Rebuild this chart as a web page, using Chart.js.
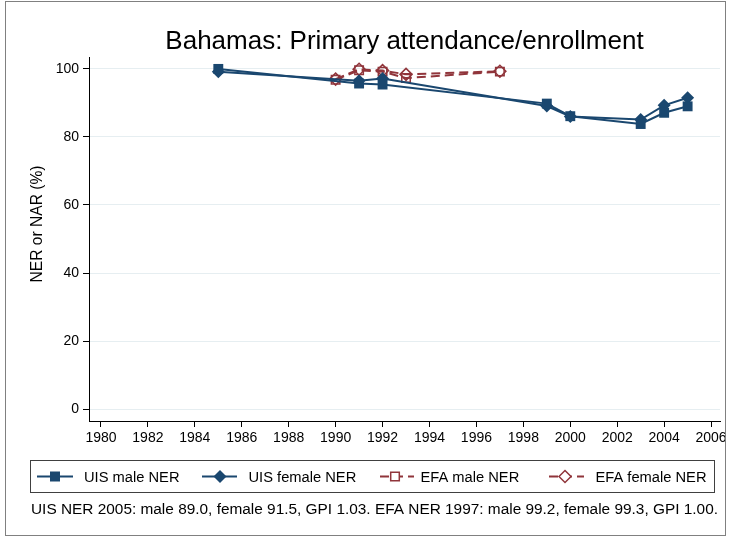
<!DOCTYPE html>
<html>
<head>
<meta charset="utf-8">
<script src="https://cdn.jsdelivr.net/npm/chart.js@4.4.1/dist/chart.umd.min.js"></script>
<style>
    html, body { margin: 0; padding: 0; background: #fff; }
</style>
</head>
<body>
<canvas id="myChart" width="731" height="538"></canvas>
<script>
// data
const uisYears = [1985, 1991, 1992, 1999, 2000, 2003, 2004, 2005];
const uisMale = [100.0, 95.7, 95.4, 89.8, 86.1, 83.8, 87.1, 89.0];
const uisFemale = [99.2, 96.5, 97.2, 89.1, 86.0, 85.1, 89.3, 91.5];
const efaYears = [1990, 1991, 1992, 1993, 1997];
const efaMale = [96.8, 99.6, 99.2, 97.3, 99.2];
const efaFemale = [97.0, 99.9, 99.5, 98.4, 99.3];

const xTicks = [1980, 1982, 1984, 1986, 1988, 1990, 1992, 1994, 1996, 1998, 2000, 2002, 2004, 2006];
const yTicks = [0, 20, 40, 60, 80, 100];

const titleText = 'Bahamas: Primary attendance/enrollment';
const yTitleText = 'NER or NAR (%)';
const legendLabels = ['UIS male NER', 'UIS female NER', 'EFA male NER', 'EFA female NER'];
const noteText = 'UIS NER 2005: male 89.0, female 91.5, GPI 1.03. EFA NER 1997: male 99.2, female 99.3, GPI 1.00.';

const navy = '#1a476f';
const maroon = '#90353b';
const FONT = '"Liberation Sans", Arial, Helvetica, sans-serif';
const efaDash = [9, 5];

function toPoints(xs, ys) {
    return xs.map((x, i) => ({ x: x, y: ys[i] }));
}

function drawMarker(ctx, style, x, y, color, filled) {
    ctx.beginPath();
    if (style === 'square') {
        const h = filled ? 5 : 4.3;
        ctx.rect(x - h, y - h, 2 * h, 2 * h);
    } else {
        const r = filled ? 6.5 : 6;
        ctx.moveTo(x, y - r);
        ctx.lineTo(x + r, y);
        ctx.lineTo(x, y + r);
        ctx.lineTo(x - r, y);
        ctx.closePath();
    }
    if (filled) {
        ctx.fillStyle = color;
        ctx.fill();
    } else {
        ctx.fillStyle = '#fff';
        ctx.fill();
        ctx.setLineDash([]);
        ctx.lineWidth = 1.5;
        ctx.strokeStyle = color;
        ctx.stroke();
    }
}

// title, y title, legend box and note
const decorPlugin = {
    id: 'decor',
    afterDraw(chart) {
        const ctx = chart.ctx;
        const area = chart.chartArea;
        ctx.save();

        // outer frame
        ctx.strokeStyle = '#808080';
        ctx.lineWidth = 1;
        ctx.strokeRect(5.5, 1.5, 720, 534);

        // title
        ctx.fillStyle = '#000';
        ctx.font = '26px ' + FONT;
        ctx.textAlign = 'center';
        ctx.textBaseline = 'alphabetic';
        ctx.fillText(titleText, (area.left + area.right) / 2, 49);

        // y axis title
        ctx.save();
        ctx.translate(42, 224);
        ctx.rotate(-Math.PI / 2);
        ctx.font = '15.6px ' + FONT;
        ctx.fillText(yTitleText, 0, 0);
        ctx.restore();

        // legend
        ctx.strokeStyle = '#404040';
        ctx.lineWidth = 1;
        ctx.strokeRect(30.5, 460.5, 684, 32);

        const items = [
            { x1: 37, x2: 73, mx: 55, tx: 84, color: navy, style: 'square', filled: true, dash: [] },
            { x1: 202, x2: 237, mx: 220, tx: 248.5, color: navy, style: 'diamond', filled: true, dash: [] },
            { x1: 380, x2: 414, mx: 395, tx: 420.5, color: maroon, style: 'square', filled: false, dash: efaDash },
            { x1: 549, x2: 584, mx: 565, tx: 595.5, color: maroon, style: 'diamond', filled: false, dash: efaDash }
        ];
        const ly = 476.5;
        ctx.font = '14.7px ' + FONT;
        ctx.textAlign = 'left';
        ctx.textBaseline = 'middle';
        items.forEach((it, i) => {
            ctx.setLineDash(it.dash);
            ctx.strokeStyle = it.color;
            ctx.lineWidth = 2;
            ctx.beginPath();
            ctx.moveTo(it.x1, ly);
            ctx.lineTo(it.x2, ly);
            ctx.stroke();
            drawMarker(ctx, it.style, it.mx, ly, it.color, it.filled);
            ctx.fillStyle = '#000';
            ctx.fillText(legendLabels[i], it.tx, ly + 1);
        });
        ctx.setLineDash([]);

        // note
        ctx.font = '15.4px ' + FONT;
        ctx.textBaseline = 'alphabetic';
        ctx.fillStyle = '#000';
        ctx.fillText(noteText, 31, 514);

        ctx.restore();
    }
};

function makeChart() {
    const ctx = document.getElementById('myChart').getContext('2d');
    const data = {
        datasets: [
            {
                label: legendLabels[0],
                data: toPoints(uisYears, uisMale),
                borderColor: navy,
                borderWidth: 2,
                pointStyle: 'rect',
                pointRadius: 7,
                pointBackgroundColor: navy,
                pointBorderColor: navy,
                pointBorderWidth: 0
            },
            {
                label: legendLabels[1],
                data: toPoints(uisYears, uisFemale),
                borderColor: navy,
                borderWidth: 2,
                pointStyle: 'rectRot',
                pointRadius: 6.5,
                pointBackgroundColor: navy,
                pointBorderColor: navy,
                pointBorderWidth: 0
            },
            {
                label: legendLabels[2],
                data: toPoints(efaYears, efaMale),
                borderColor: maroon,
                borderWidth: 2,
                borderDash: efaDash,
                pointStyle: 'rect',
                pointRadius: 6,
                pointBackgroundColor: 'rgba(0,0,0,0)',
                pointBorderColor: maroon,
                pointBorderWidth: 1.5
            },
            {
                label: legendLabels[3],
                data: toPoints(efaYears, efaFemale),
                borderColor: maroon,
                borderWidth: 2,
                borderDash: efaDash,
                pointStyle: 'rectRot',
                pointRadius: 6,
                pointBackgroundColor: 'rgba(0,0,0,0)',
                pointBorderColor: maroon,
                pointBorderWidth: 1.5
            }
        ]
    };

    new Chart(ctx, {
        type: 'line',
        data: data,
        plugins: [decorPlugin],
        options: {
            responsive: false,
            animation: false,
            layout: { padding: { top: 57, right: 11, left: 0, bottom: 0 } },
            elements: { line: { tension: 0 } },
            scales: {
                x: {
                    type: 'linear',
                    min: 1979.49,
                    max: 2006.38,
                    afterBuildTicks: (s) => { s.ticks = xTicks.map(v => ({ value: v })); },
                    afterFit: (s) => { s.height = 117; },
                    grid: { drawOnChartArea: false, drawTicks: true, tickLength: 6, tickColor: '#000' },
                    border: { display: true, color: '#000', width: 1 },
                    ticks: {
                        color: '#000',
                        font: { family: FONT, size: 14 },
                        padding: 3,
                        maxRotation: 0,
                        autoSkip: false,
                        callback: (v) => String(v)
                    }
                },
                y: {
                    min: -3.5,
                    max: 103.5,
                    afterBuildTicks: (s) => { s.ticks = yTicks.map(v => ({ value: v })); },
                    afterFit: (s) => { s.width = 89; },
                    grid: { color: '#e6eef1', lineWidth: 1, drawTicks: true, tickLength: 6, tickColor: '#000' },
                    border: { display: true, color: '#000', width: 1 },
                    ticks: {
                        color: '#000',
                        font: { family: FONT, size: 14 },
                        padding: 4,
                        callback: (v) => String(v)
                    }
                }
            },
            plugins: {
                legend: { display: false },
                title: { display: false },
                tooltip: { enabled: false }
            }
        }
    });
}

makeChart();
</script>
</body>
</html>
